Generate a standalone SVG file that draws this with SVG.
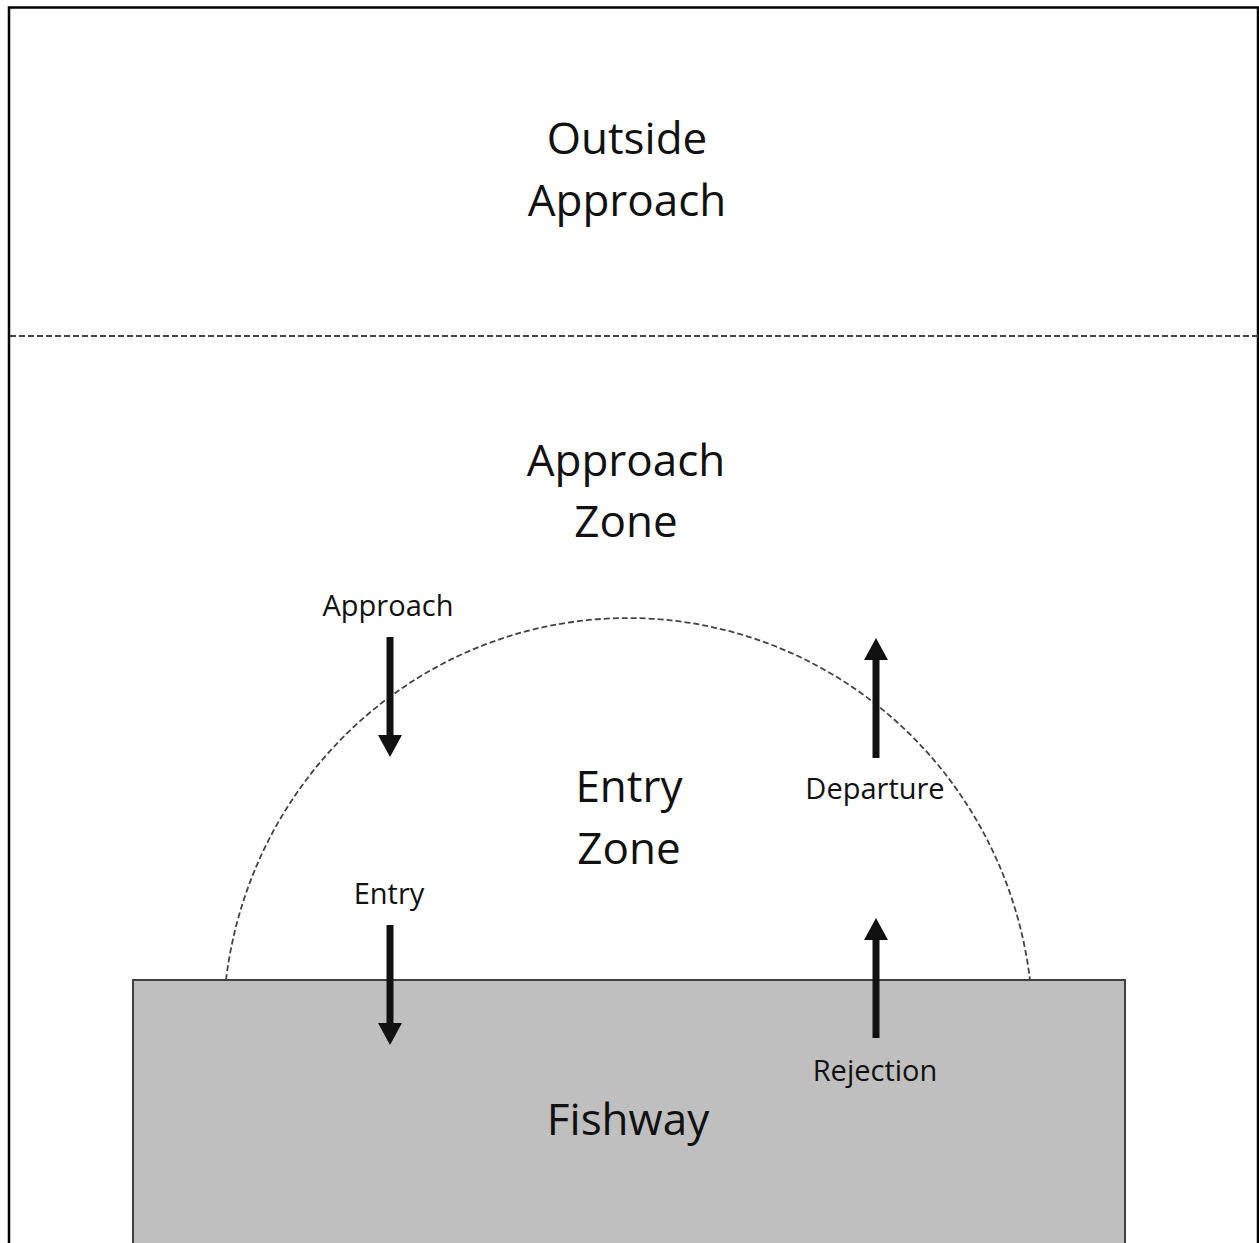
<svg xmlns="http://www.w3.org/2000/svg" width="1259" height="1243" viewBox="0 0 1259 1243">
  <style>
    .big { font-family: "Open Sans", "Noto Sans", sans-serif; font-size: 44px; fill: #111; text-anchor: middle; }
    .small { font-family: "Open Sans", "Noto Sans", sans-serif; font-size: 29px; fill: #111; text-anchor: middle; }
    .dash { fill: none; stroke: #444; stroke-width: 1.8; stroke-dasharray: 6 3; }
    .arrow { fill: none; stroke: #111; stroke-width: 7; marker-end: url(#head); }
  </style>
  <defs>
    <marker id="head" markerUnits="userSpaceOnUse" markerWidth="22" markerHeight="24" viewBox="0 0 22 24" refX="1" refY="12" orient="auto">
      <path d="M0,0 L22,12 L0,24 Z" fill="#111"/>
    </marker>
  </defs>
  <rect width="1259" height="1243" fill="#fff"/>
  <g id="frame">
    <rect x="9" y="7.5" width="1249" height="1260" fill="none" stroke="#000" stroke-width="2.5"/>
  </g>
  <g id="outside-approach">
    <text class="big" x="627" y="154">Outside</text>
    <text class="big" x="627" y="216">Approach</text>
  </g>
  <g id="boundary">
    <line class="dash" x1="10" y1="336" x2="1258" y2="336"/>
  </g>
  <g id="approach-zone">
    <text class="big" x="626" y="476">Approach</text>
    <text class="big" x="626" y="537">Zone</text>
  </g>
  <g id="entry-zone">
    <path class="dash" d="M226,980 A405,412 0 0,1 1030,980"/>
    <text class="big" x="629" y="802">Entry</text>
    <text class="big" x="629" y="864">Zone</text>
  </g>
  <g id="fishway">
    <rect x="133" y="980" width="992" height="300" fill="#bfbfbf" stroke="#404040" stroke-width="2"/>
    <text class="big" x="628" y="1135">Fishway</text>
  </g>
  <g id="connectors">
    <line class="arrow" x1="390" y1="637" x2="390" y2="736"/>
    <line class="arrow" x1="390" y1="925" x2="390" y2="1024"/>
    <line class="arrow" x1="876" y1="758" x2="876" y2="659"/>
    <line class="arrow" x1="876" y1="1038" x2="876" y2="939"/>
  </g>
  <g id="labels">
    <text class="small" x="388" y="616">Approach</text>
    <text class="small" x="389" y="904">Entry</text>
    <text class="small" x="875" y="799">Departure</text>
    <text class="small" x="875" y="1081">Rejection</text>
  </g>
</svg>
